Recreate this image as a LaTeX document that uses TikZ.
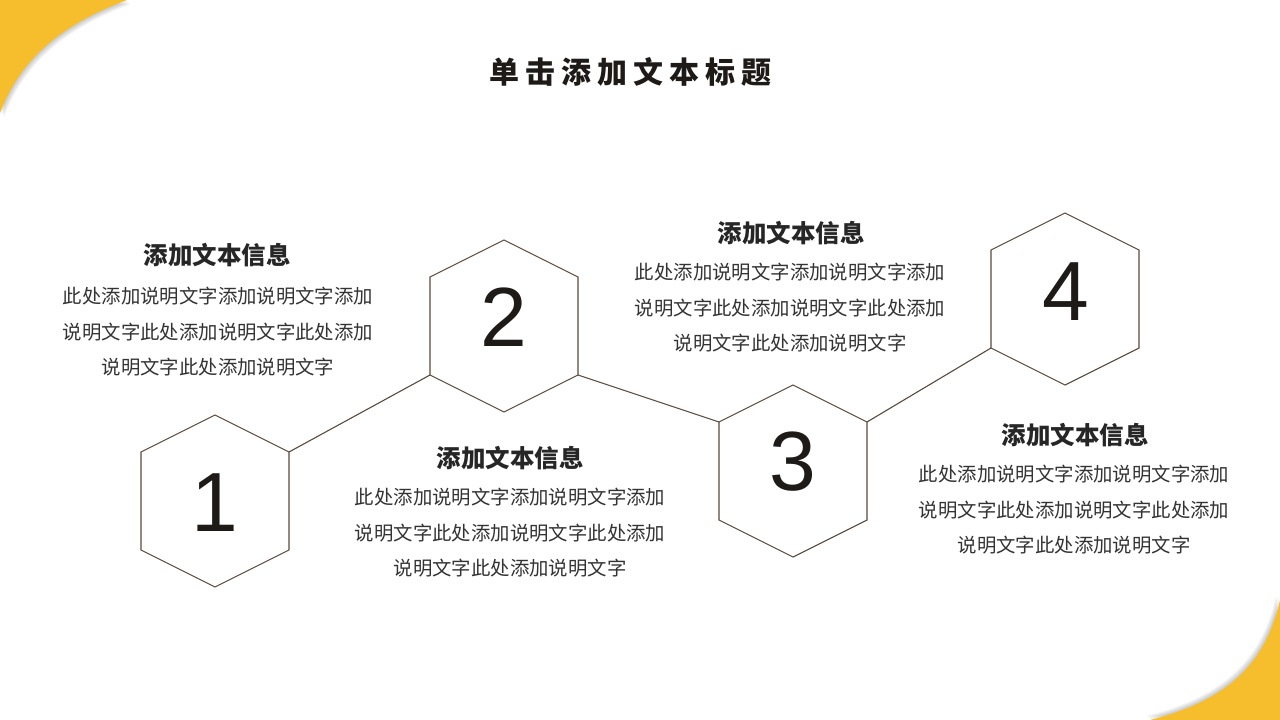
\documentclass[tikz,border=0pt]{standalone}
\usepackage{fontspec}
\setmainfont{Noto Sans CJK SC}
\newfontfamily\titlefont{Noto Sans CJK SC}[LetterSpace=20]
\newfontfamily\numfont{Liberation Sans}
\definecolor{cornery}{HTML}{F6BE2C}
\definecolor{hexc}{HTML}{5A4A3E}
\definecolor{titlec}{HTML}{1E1A17}
\definecolor{headc}{HTML}{262626}
\definecolor{bodyc}{HTML}{333333}
\newcommand\hexat[3]{%
  \draw[hexline] (#2,#3-86) -- (#2+74,#3-49) -- (#2+74,#3+49) -- (#2,#3+86)
    -- (#2-74,#3+49) -- (#2-74,#3-49) -- cycle;
  \coordinate (#1ur) at (#2+74,#3-49);
  \coordinate (#1lr) at (#2+74,#3+49);
  \coordinate (#1ul) at (#2-74,#3-49);
  \coordinate (#1ll) at (#2-74,#3+49);
}
\begin{document}
\begin{tikzpicture}[x=1pt,y=-1pt,
  hexline/.style={draw=hexc,line width=1.1pt},
  corner/.style={fill=cornery},
  cshadow/.style={fill=black,opacity=0.05},
  numstyle/.style={font=\fontsize{84}{84}\selectfont\numfont,text=titlec,inner sep=0pt},
  headstyle/.style={font=\fontsize{24.5}{30}\selectfont\bfseries,text=headc,inner sep=0pt},
  bodystyle/.style={font=\fontsize{19.4}{35.5}\selectfont,text=bodyc,align=center,inner sep=0pt},
  titlestyle/.style={font=\fontsize{30}{36}\selectfont\titlefont\bfseries,text=titlec,inner sep=0pt}]
\useasboundingbox (0,0) rectangle (1280,720);
\fill[white] (0,0) rectangle (1280,720);
% corner shapes with soft shadow
\foreach \s in {4,3,2,1}{
  \fill[cshadow,shift={(\s,\s)}] (0,0) -- (127,0) .. controls (60,25) and (20,60) .. (0,113) -- cycle;
  \fill[cshadow,shift={(-\s,-\s)}] (1280,720) -- (1280,600) .. controls (1265,668) and (1222,702) .. (1150,720) -- cycle;
}
\fill[corner] (0,0) -- (127,0) .. controls (60,25) and (20,60) .. (0,113) -- cycle;
\fill[corner] (1280,720) -- (1280,600) .. controls (1265,668) and (1222,702) .. (1150,720) -- cycle;
% title
\node[titlestyle] (title) at (630,72) {单击添加文本标题};
% hexagons
\hexat{h1}{215}{501}
\hexat{h2}{504}{326}
\hexat{h3}{793}{471}
\hexat{h4}{1065}{299}
\draw[hexline] (h1ur) -- (h2ll);
\draw[hexline] (h2lr) -- (h3ul);
\draw[hexline] (h3ur) -- (h4ll);
\node[numstyle] (n1) at (215,503) {1};
\node[numstyle] (n2) at (504,317) {2};
\node[numstyle] (n3) at (793,462) {3};
\node[numstyle] (n4) at (1066,292) {4};
% text blocks
\node[headstyle] (t1) at (217,255) {添加文本信息};
\node[bodystyle] (b1) at (218,332) {此处添加说明文字添加说明文字添加\\说明文字此处添加说明文字此处添加\\说明文字此处添加说明文字};
\node[headstyle] (t2) at (510,458) {添加文本信息};
\node[bodystyle] (b2) at (510,533) {此处添加说明文字添加说明文字添加\\说明文字此处添加说明文字此处添加\\说明文字此处添加说明文字};
\node[headstyle] (t3) at (791,233) {添加文本信息};
\node[bodystyle] (b3) at (790,308) {此处添加说明文字添加说明文字添加\\说明文字此处添加说明文字此处添加\\说明文字此处添加说明文字};
\node[headstyle] (t4) at (1075,435) {添加文本信息};
\node[bodystyle] (b4) at (1074,510) {此处添加说明文字添加说明文字添加\\说明文字此处添加说明文字此处添加\\说明文字此处添加说明文字};
\end{tikzpicture}
\end{document}
